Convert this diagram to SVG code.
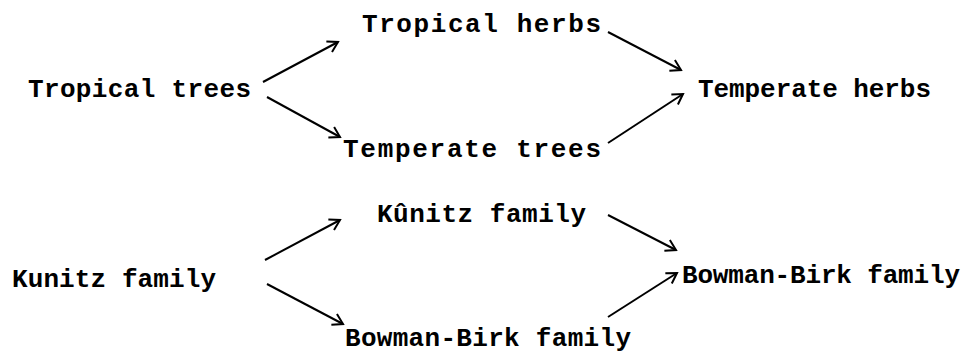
<svg xmlns="http://www.w3.org/2000/svg" width="966" height="354" viewBox="0 0 966 354">
<style>
  .lbl { font-family: "Liberation Mono", "Courier New", monospace; font-size: 26px; font-weight: bold; fill: #000; }
  .edge { stroke: #000; stroke-width: 2; fill: none; marker-end: url(#arr); }
</style>
<defs>
  <marker id="arr" markerUnits="userSpaceOnUse" markerWidth="16" markerHeight="16" refX="0" refY="0" viewBox="-12 -8 14 16" orient="auto">
    <path d="M-10,-6 L0,0 L-10,6" fill="none" stroke="#000" stroke-width="2" stroke-linejoin="miter"/>
  </marker>
</defs>
<rect width="966" height="354" fill="#fff"/>
<g id="n-tropical-trees"><text class="lbl" x="28" y="97" textLength="223" lengthAdjust="spacing">Tropical trees</text></g>
<g id="n-tropical-herbs"><text class="lbl" x="362" y="32" textLength="239" lengthAdjust="spacing">Tropical herbs</text></g>
<g id="n-temperate-trees"><text class="lbl" x="343" y="157" textLength="258" lengthAdjust="spacing">Temperate trees</text></g>
<g id="n-temperate-herbs"><text class="lbl" x="698" y="97" textLength="233" lengthAdjust="spacing">Temperate herbs</text></g>
<g id="n-kunitz-left"><text class="lbl" x="12" y="287" textLength="204" lengthAdjust="spacing">Kunitz family</text></g>
<g id="n-kunitz-mid"><text class="lbl" x="377" y="222" textLength="209" lengthAdjust="spacing">Kûnitz family</text></g>
<g id="n-bowman-mid"><text class="lbl" x="345" y="346" textLength="286" lengthAdjust="spacing">Bowman-Birk family</text></g>
<g id="n-bowman-right"><text class="lbl" x="682" y="283" textLength="278" lengthAdjust="spacing">Bowman-Birk family</text></g>
<g id="connectors">
  <line class="edge" x1="263" y1="82" x2="338" y2="42"/>
  <line class="edge" x1="267" y1="97" x2="340" y2="137"/>
  <line class="edge" x1="608" y1="32" x2="681" y2="70"/>
  <line class="edge" x1="608" y1="143" x2="683" y2="94"/>
  <line class="edge" x1="265" y1="260" x2="340" y2="220"/>
  <line class="edge" x1="267" y1="284" x2="343" y2="324"/>
  <line class="edge" x1="608" y1="215" x2="676" y2="250"/>
  <line class="edge" x1="608" y1="317" x2="677" y2="273"/>
</g>
</svg>
